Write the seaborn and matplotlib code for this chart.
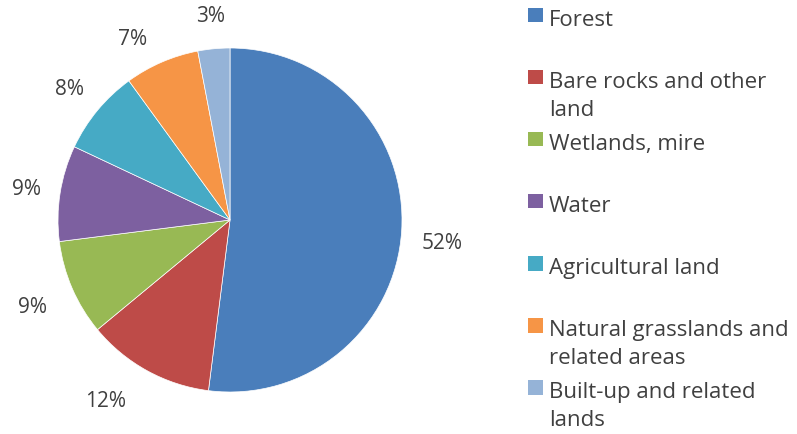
import matplotlib
matplotlib.use("Agg")
import numpy as np
import matplotlib.pyplot as plt
import seaborn as sns
from matplotlib.patches import Patch, Rectangle
from matplotlib.legend_handler import HandlerPatch

sns.set_theme(style="white")
plt.rcParams['font.family'] = ['Open Sans', 'DejaVu Sans']

categories = ["Forest", "Bare rocks and other\nland", "Wetlands, mire", "Water",
              "Agricultural land", "Natural grasslands and\nrelated areas",
              "Built-up and related\nlands"]
values = [52, 12, 9, 9, 8, 7, 3]
colors = ["#4A7EBB", "#BE4B48", "#98B954", "#7D60A0", "#46AAC5", "#F69546", "#95B3D7"]
label_dist = [1.24, 1.27, 1.25, 1.2, 1.21, 1.2, 1.2]
label_turn = [-2.3, -6.0, 0.0, 0.0, 0.0, 4.7, 0.0]

W, H = 797, 434
fig = plt.figure(figsize=(W / 100, H / 100), dpi=100)
cx, cy, r = 230, 220, 172
ax = fig.add_axes([(cx - r) / W, (H - cy - r) / H, 2 * r / W, 2 * r / H])

wedges, texts, autotexts = ax.pie(
    values, colors=colors, startangle=90, counterclock=False,
    autopct=lambda p: f"{p:.0f}%", pctdistance=1.0,
    wedgeprops=dict(linewidth=0.5, edgecolor="white"),
    textprops=dict(fontsize=15, color="#404040"))
for t, d, a in zip(autotexts, label_dist, label_turn):
    x, y = t.get_position()
    ang = np.arctan2(y, x) + np.deg2rad(a)
    t.set_position((d * np.cos(ang), d * np.sin(ang) - 0.012))
ax.set_xlim(-1, 1)
ax.set_ylim(-1, 1)
ax.set_aspect("equal")
ax.axis("off")

SHIFT_PT = 14.0


class TopSquare(HandlerPatch):
    def create_artists(self, legend, orig_handle, xdescent, ydescent,
                       width, height, fontsize, trans):
        p = Rectangle((-xdescent, -ydescent + SHIFT_PT), width, height,
                      facecolor=orig_handle.get_facecolor(), edgecolor="none",
                      transform=trans)
        return [p]


labels = [c if "\n" in c else c + "\n " for c in categories]
handles = [Patch(facecolor=c, edgecolor="none") for c in colors]
leg = fig.legend(handles, labels, loc="upper left",
                 bbox_to_anchor=(528 / W, 1 - 10 / H), frameon=False,
                 fontsize=16, handlelength=0.68, handleheight=0.62,
                 handletextpad=0.25, labelspacing=0.6, borderpad=0, borderaxespad=0,
                 handler_map={Patch: TopSquare()})
for t in leg.get_texts():
    t.set_color("#404040")
    t.set_linespacing(1.42)

fig.savefig("out.png", dpi=100)
